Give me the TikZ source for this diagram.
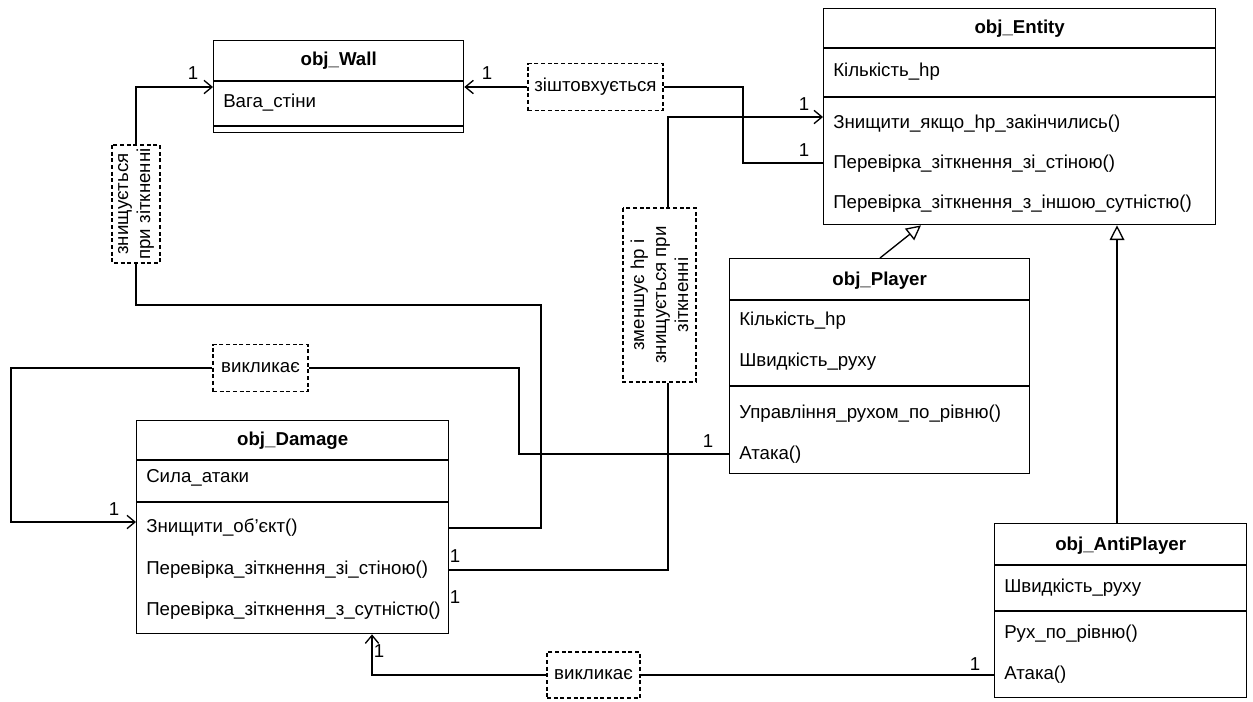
\documentclass[tikz,border=0pt]{standalone}
\usepackage{fontspec}
\setmainfont{Liberation Sans}
\usetikzlibrary{arrows.meta}

\newcommand{\diagfont}{\fontsize{14}{16.5}\selectfont}	% text size of the whole diagram

\tikzset{
	classbox/.style={draw=black, line width=1pt, inner sep=0pt, anchor=north west},
	classtitle/.style={font=\diagfont\bfseries, inner sep=0pt},
	member/.style={anchor=west, inner sep=0pt},
	note/.style={draw=black, line width=0.9pt, dash pattern=on 3pt off 2pt, inner sep=0pt, align=center},
	mult/.style={inner sep=0pt},
	link/.style={line width=1pt},
	assoc/.style={link, -{Straight Barb[length=6pt, width=10pt]}},
	inherit/.style={link, -{Triangle[open, length=11pt, width=11pt]}}
}

\begin{document}
\begin{tikzpicture}[x=0.75pt, y=-0.75pt, font=\diagfont]

	\useasboundingbox (0,0) rectangle (1253,701);	% page size in pixels

	% class boxes: name/left/top/right/bottom
	\foreach \name/\l/\t/\r/\b in {wall/213/40/463/132, entity/823/8/1215/224, player/729/258/1029/473, damage/136/420/448/633, anti/994/523/1246/697}{
		\node[classbox, minimum width=(\r-\l)*0.75pt, minimum height=(\b-\t)*0.75pt] (\name) at (\l,\t) {};
	}

	% compartment lines
	\foreach \name/\y in {wall/81, wall/126, entity/48, entity/97, player/300, player/386, damage/460, damage/502, anti/565, anti/611}{
		\draw[link] (\name.west |- 0,\y) -- (\name.east |- 0,\y);
	}

	% class names
	\foreach \name/\y/\txt in {wall/61/obj\_Wall, entity/29/obj\_Entity, player/281/obj\_Player, damage/441/obj\_Damage, anti/546/obj\_AntiPlayer}{
		\node[classtitle] (\name-title) at (\name.north |- 0,\y) {\txt};
	}

	% attributes and methods
	\foreach \x/\y/\txt [count=\i] in {
		223/103/Вага\_стіни,
		833/72/Кількість\_hp,
		833/124/Знищити\_якщо\_hp\_закінчились(),
		833/164/Перевірка\_зіткнення\_зі\_стіною(),
		833/204/Перевірка\_зіткнення\_з\_іншою\_сутністю(),
		739/321/Кількість\_hp,
		739/362/Швидкість\_руху,
		739/414/Управління\_рухом\_по\_рівню(),
		739/455/Атака(),
		146/478/Сила\_атаки,
		146/528/Знищити\_об'єкт(),
		146/570/Перевірка\_зіткнення\_зі\_стіною(),
		146/611/Перевірка\_зіткнення\_з\_сутністю(),
		1004/588/Швидкість\_руху,
		1004/634/Рух\_по\_рівню(),
		1004/675/Атака()}{
		\node[member] (row\i) at (\x,\y) {\txt};
	}

	% dashed labels of the links
	\node[note, minimum width=135*0.75pt, minimum height=47*0.75pt] (bump) at (595.5,87) {зіштовхується};
	\node[note, rotate=90, minimum width=118*0.75pt, minimum height=48*0.75pt] (breaks) at (136,204) {знищується\\при зіткненні};
	\node[note, rotate=90, minimum width=174*0.75pt, minimum height=73*0.75pt] (hurts) at (659.5,295) {зменшує hp і\\знищується при\\зіткненні};
	\node[note, minimum width=95*0.75pt, minimum height=47*0.75pt] (callp) at (260.5,368) {викликає};
	\node[note, minimum width=93*0.75pt, minimum height=46*0.75pt] (calla) at (593.5,675) {викликає};

	% links
	\draw[assoc] (breaks.east) |- (wall.west |- 0,87);
	\draw[link] (breaks.west) |- (541,305) |- (damage.east |- 0,528);
	\draw[assoc] (bump.west) -- (wall.east |- bump.west);
	\draw[link] (bump.east) -| (743,163) -- (entity.west |- 0,163);
	\draw[link] (damage.east |- 0,570) -| (668,0 |- hurts.west);
	\draw[assoc] (668,0 |- hurts.east) |- (entity.west |- 0,117);
	\draw[link] (player.west |- 0,454) -| (519,368) -- (callp.east);
	\draw[assoc] (callp.west) -| (11,522) -- (damage.west |- 0,522);
	\draw[link] (anti.west |- 0,675) -- (calla.east);
	\draw[assoc] (calla.west) -| (372,0 |- damage.south);
	\draw[inherit] (880,0 |- player.north) -- (921,0 |- entity.south);
	\draw[inherit] (1117,0 |- anti.north) -- (1117,0 |- entity.south);

	% multiplicities
	\foreach \x/\y [count=\i] in {193/73, 487/73, 804/104, 804/150, 114/509, 708/441, 455/556, 455/597, 379/651, 975/664}{
		\node[mult] (one\i) at (\x,\y) {1};
	}

\end{tikzpicture}
\end{document}
